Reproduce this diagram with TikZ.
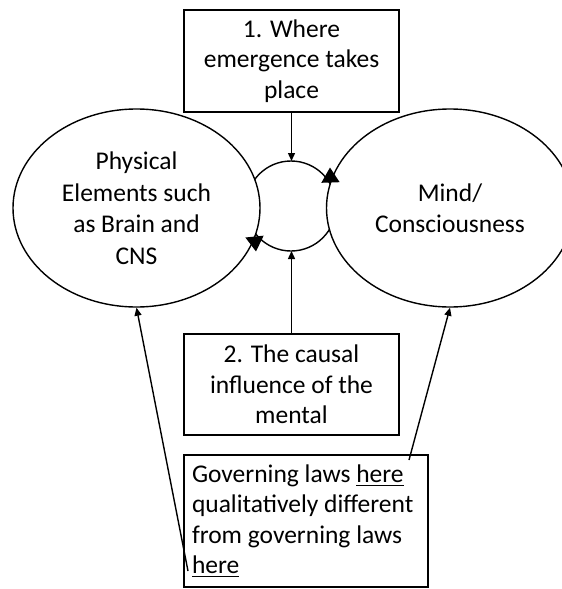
\documentclass[tikz,border=0pt]{standalone}
\usepackage{fontspec}
\setmainfont{Carlito}
\usetikzlibrary{shapes.geometric,arrows.meta}

% thick underline placed a little below the baseline
\newlength\herewd
\newcommand\hereline[1]{\leavevmode\settowidth\herewd{#1}\rlap{\rule[-3.5pt]{\herewd}{1.3pt}}#1}

\begin{document}
\begin{tikzpicture}[x=1pt,y=-1pt,line width=1.4pt,
  every node/.style={font=\fontsize{25.5}{30.5}\selectfont},
  blob/.style={ellipse,draw,fill=white,minimum width=247pt,minimum height=198pt,
    inner sep=0pt,align=center,font=\fontsize{25.5}{31.5}\selectfont},
  textbox/.style={draw,rectangle,fill=white,inner sep=0pt,align=center},
  smalltip/.style={-{Triangle[length=8pt,width=7pt]}},
  bigtip/.style={-{Triangle[length=15pt,width=18pt]}}]
\useasboundingbox (0,0) rectangle (562,589);

% feedback loop between the two domains (inner parts hidden by the ellipses)
\coordinate (loopc) at (291,206);
\coordinate (looptop) at (291,161);
\coordinate (loopbot) at (291,251);
\draw (loopc) circle[radius=45pt];

% the two domains
\node[blob] (phys) at (136.5,208) {Physical\\Elements such\\as Brain and\\CNS};
\node[blob] (mind) at (450,208) {Mind/\\Consciousness};

% loop arrowheads where the loop meets the ellipses
\draw[bigtip] (330.5,183) -- (330,167.5);
\draw[bigtip] (254.5,236.5) -- (256,251.5);

% labelled boxes
\node[textbox,minimum width=215pt,minimum height=102pt] (where) at (291.5,61)
  {1. Where\\emergence takes\\place};
\node[textbox,minimum width=215pt,minimum height=101pt] (causal) at (291.5,384.5)
  {2. The causal\\influence of the\\mental};
\node[textbox,minimum width=244pt,minimum height=132pt,align=flush left,text width=228pt]
  (laws) at (306,521)
  {Governing laws \hereline{here}\\qualitatively different\\from governing laws\\\hereline{here}};

% pointers
\coordinate (hereA) at (409,460);
\coordinate (hereB) at (188,571);
\draw[smalltip] (where.south) -- (where.south |- looptop);
\draw[smalltip] (causal.north) -- (causal.north |- loopbot);
\draw[smalltip] (hereA) -- (mind.south);
\draw[smalltip] (hereB) -- (phys.south);
\end{tikzpicture}
\end{document}
